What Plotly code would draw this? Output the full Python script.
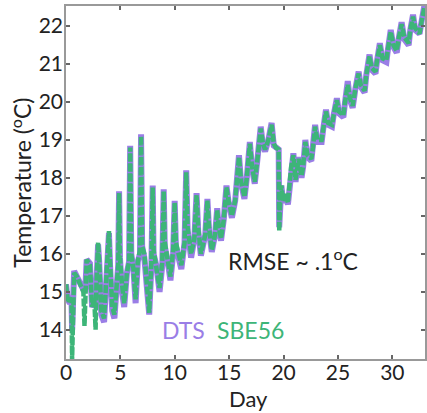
import plotly.graph_objects as go

days = [0.00, 0.15, 0.35, 0.50, 0.56, 0.62, 0.75, 1.00, 1.30, 1.60, 1.70, 1.78, 1.90, 2.20, 2.40, 2.60, 2.72, 2.80, 2.95, 3.05,
        3.25, 3.50, 3.70, 3.85, 3.95, 4.05, 4.25, 4.45, 4.65, 4.80, 4.88, 4.96, 5.15, 5.35, 5.60, 5.80, 5.90, 6.00, 6.20, 6.40,
        6.60, 6.80, 6.90, 7.00, 7.20, 7.40, 7.65, 7.85, 7.97, 8.05, 8.30, 8.60, 8.85, 8.98, 9.08, 9.35, 9.60, 9.85, 9.99, 10.10,
        10.35, 10.60, 10.90, 11.05, 11.18, 11.50, 11.80, 12.00, 12.15, 12.40, 12.80, 13.00, 13.15, 13.40, 13.70, 13.90, 14.05, 14.25, 14.50, 14.75,
        14.95, 15.25, 15.55, 15.90, 16.10, 16.40, 16.60, 16.90, 17.10, 17.35, 17.60, 17.90, 18.10, 18.30, 18.60, 18.90, 19.10, 19.30, 19.55, 19.60,
        19.70, 19.80, 19.95, 20.20, 20.40, 20.70, 20.90, 21.10, 21.40, 21.65, 21.80, 22.00, 22.20, 22.55, 22.70, 22.90, 23.10, 23.50, 23.65, 23.90,
        24.10, 24.45, 24.60, 24.90, 25.10, 25.50, 25.65, 25.90, 26.10, 26.35, 26.60, 26.90, 27.10, 27.45, 27.60, 27.90, 28.10, 28.45, 28.60, 28.85,
        29.10, 29.45, 29.60, 29.85, 30.10, 30.40, 30.60, 30.85, 31.10, 31.50, 31.65, 31.90, 32.10, 32.50, 32.70, 32.95]

sbe56 = [15.20, 14.80, 14.75, 14.85, 13.20, 14.40, 15.50, 15.40, 15.20, 15.00, 14.10, 15.10, 15.85, 15.70, 14.60, 14.80, 14.00, 15.20, 16.30, 15.80,
         14.50, 14.30, 15.20, 15.70, 16.60, 15.80, 14.60, 14.40, 15.30, 15.70, 17.60, 15.90, 15.20, 14.70, 15.50, 15.80, 18.80, 16.00, 15.60, 14.80,
         15.80, 16.10, 19.10, 16.20, 16.00, 15.30, 14.45, 15.80, 17.75, 16.10, 15.70, 15.10, 15.80, 17.65, 16.30, 15.90, 15.40, 16.10, 17.35, 16.30,
         16.00, 15.70, 16.30, 18.15, 16.70, 16.00, 16.40, 17.55, 16.70, 16.00, 16.50, 17.40, 16.70, 16.10, 16.50, 17.15, 16.70, 16.40, 16.90, 17.75,
         17.40, 17.00, 17.40, 18.55, 17.90, 17.50, 17.95, 18.90, 18.30, 17.90, 18.50, 19.30, 18.90, 18.75, 19.00, 19.40, 18.90, 18.80, 18.75, 16.60,
         17.50, 17.80, 17.40, 17.60, 17.35, 18.30, 18.60, 17.95, 18.50, 18.05, 18.30, 18.95, 18.60, 18.50, 18.80, 19.35, 19.00, 19.00, 19.30, 19.75,
         19.45, 19.40, 19.65, 20.05, 19.75, 19.65, 20.00, 20.45, 20.10, 19.90, 20.35, 20.75, 20.45, 20.30, 20.70, 21.20, 20.90, 20.80, 21.10, 21.50,
         21.15, 21.10, 21.40, 21.85, 21.50, 21.35, 21.70, 22.05, 21.70, 21.55, 21.90, 22.25, 21.95, 21.80, 22.15, 22.50]

dts = [15.20, 14.80, 14.70, 14.85, 14.00, 14.40, 15.55, 15.40, 15.20, 15.05, 15.00, 15.10, 15.85, 15.75, 14.60, 14.70, 14.75, 15.20, 16.25, 15.80,
       14.40, 14.20, 15.20, 15.70, 16.55, 15.70, 14.50, 14.30, 15.20, 15.70, 17.65, 15.90, 15.00, 14.60, 15.50, 15.80, 18.85, 16.00, 15.60, 14.70,
       15.80, 16.00, 19.15, 16.20, 15.90, 15.20, 14.40, 15.70, 17.80, 16.00, 15.70, 15.00, 15.70, 17.70, 16.20, 15.80, 15.30, 16.00, 17.40, 16.20,
       15.90, 15.60, 16.30, 18.20, 16.60, 15.90, 16.40, 17.60, 16.60, 15.95, 16.50, 17.45, 16.60, 16.05, 16.50, 17.20, 16.60, 16.35, 16.90, 17.80,
       17.35, 16.95, 17.40, 18.60, 17.85, 17.45, 17.95, 18.95, 18.25, 17.85, 18.50, 19.35, 18.85, 18.70, 19.00, 19.45, 18.85, 18.80, 18.75, 16.70,
       17.45, 17.80, 17.35, 17.55, 17.30, 18.35, 18.65, 17.90, 18.55, 18.00, 18.30, 19.00, 18.55, 18.45, 18.80, 19.40, 18.95, 18.95, 19.30, 19.80,
       19.40, 19.35, 19.65, 20.10, 19.70, 19.60, 20.00, 20.55, 20.05, 19.85, 20.35, 20.80, 20.40, 20.25, 20.70, 21.25, 20.85, 20.75, 21.10, 21.55,
       21.10, 21.05, 21.40, 21.90, 21.45, 21.30, 21.70, 22.10, 21.65, 21.50, 21.90, 22.30, 21.90, 21.80, 22.15, 22.55]

x_ticks = [0, 5, 10, 15, 20, 25, 30]
y_ticks = [14, 15, 16, 17, 18, 19, 20, 21, 22]

PURPLE = "#9a7ee6"
GREEN = "#3db578"
FONT = "Lato"

fig = go.Figure()
fig.add_trace(go.Scatter(x=days, y=dts, mode="lines", name="DTS",
                         line=dict(color=PURPLE, width=6)))
fig.add_trace(go.Scatter(x=days, y=sbe56, mode="lines", name="SBE56",
                         line=dict(color=GREEN, width=4.5, dash="8px,2px")))

axis_common = dict(showline=True, linecolor="#999999", linewidth=1.5, mirror="ticks",
                   ticks="inside", ticklen=4, tickwidth=1.5, tickcolor="#666666",
                   showgrid=False, zeroline=False,
                   tickfont=dict(family=FONT, size=21, color="#222222"))

fig.update_xaxes(range=[0, 33], tickvals=x_ticks, ticklabelstandoff=-6, **axis_common)
fig.update_yaxes(range=[13.23, 22.53], tickvals=y_ticks, ticklabelstandoff=-3, **axis_common)


def label(text, x, y, color="#222222", angle=0, size=23):
    return dict(text=text, xref="paper", yref="paper", x=x, y=y, xanchor="center", yanchor="middle",
                textangle=angle, showarrow=False, font=dict(family=FONT, size=size, color=color))


fig.update_layout(
    width=427, height=413,
    margin=dict(l=66, r=0, t=6, b=54),
    paper_bgcolor="white", plot_bgcolor="white",
    showlegend=False,
    annotations=[
        label("Temperature (<sup>o</sup>C)", -0.125, 0.5, angle=-90),
        label("Day", 0.507, -0.113, size=22),
        label("RMSE ~ .1<sup>o</sup>C", 0.632, 0.283),
        label("DTS", 0.327, 0.082, color=PURPLE),
        label("SBE56", 0.515, 0.082, color=GREEN),
    ],
)

fig.write_html("out.html")
